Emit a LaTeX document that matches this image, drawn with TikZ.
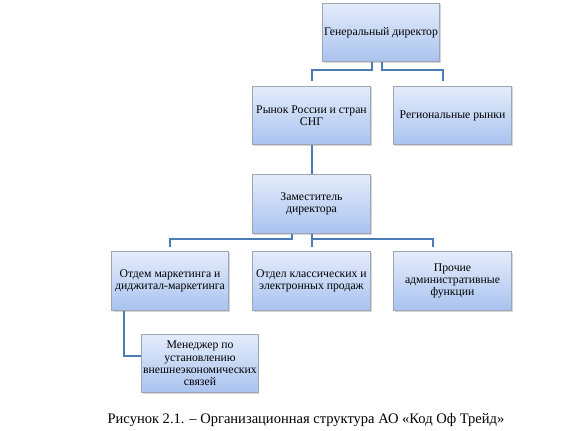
\documentclass[tikz,border=0pt]{standalone}
\usepackage{fontspec}
\setmainfont{Liberation Serif}
\usetikzlibrary{shadows}
\definecolor{boxtop}{HTML}{E4ECFB}
\definecolor{boxbot}{HTML}{A9C3EF}
\definecolor{boxline}{HTML}{9EA6B4}
\definecolor{linkblue}{HTML}{4A7DB5}
\tikzset{
  unit/.style={draw=boxline, line width=0.6pt, top color=boxtop, bottom color=boxbot,
    minimum width=88pt, minimum height=44pt, inner sep=1pt, align=center,
    font=\fontsize{8.8}{9.2}\selectfont,
    drop shadow={shadow xshift=1pt, shadow yshift=-1pt, fill=black!45, opacity=0.35}},
  link/.style={linkblue, line width=1.5pt},
  gap/.style={shorten >=3.5pt},
}

\begin{document}
\begin{tikzpicture}[x=0.75pt, y=-0.75pt]
  \fill[white] (0,0) rectangle (588,431);
  \useasboundingbox (0,0) rectangle (588,431);

  % top level
  \node[unit] (gen) at (381,32.5) {Генеральный директор};
  \node[unit] (rynok) at (311.5,115.5) {Рынок России и стран\\СНГ};
  \node[unit] (reg) at (452.5,115.5) {Региональные рынки};

  % deputy
  \node[unit] (zam) at (311.5,204) {Заместитель\\директора};

  % departments
  \node[unit] (otdem) at (170,281) {Отдем маркетинга и\\диджитал-маркетинга};
  \node[unit] (otdel) at (311.5,281) {Отдел классических и\\электронных продаж};
  \node[unit] (proch) at (452.5,281) {Прочие\\административные\\функции};
  \node[unit, minimum width=87pt] (men) at (200,363.5) {Менеджер по\\установлению\\внешнеэкономических\\связей};

  % connectors
  \draw[link, gap] ([xshift=-6.75pt]gen.south) -- ++(0,8) -| (rynok.north);
  \draw[link, gap] ([xshift=0.75pt]gen.south) -- ++(0,8) -| ([xshift=-7.5pt]reg.north);
  \draw[link] (rynok.south) -- (zam.north);
  \draw[link, gap] ([xshift=-15pt]zam.south) -- ++(0,5) -| (otdem.north);
  \draw[link, gap] (zam.south) -- (otdel.north);
  \draw[link, gap] (zam.south) -- ++(0,5) -| ([xshift=-15pt]proch.north);
  \draw[link] ([xshift=-34.5pt]otdem.south) |- ([yshift=6pt]men.west);

  % caption
  \node[font=\fontsize{10.9}{12}\selectfont] (cap) at (306,420)
    {Рисунок 2.1. – Организационная структура АО «Код Оф Трейд»};
\end{tikzpicture}
\end{document}
